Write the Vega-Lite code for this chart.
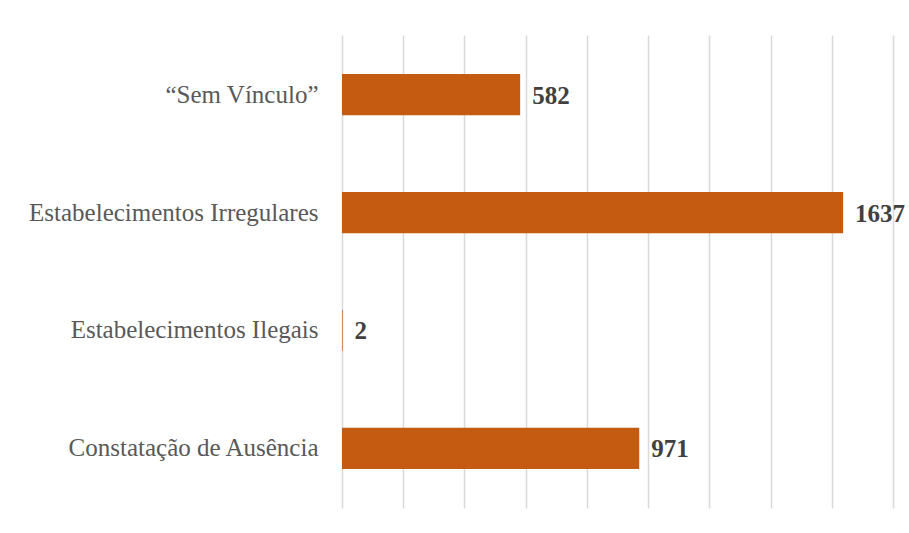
{
  "$schema": "https://vega.github.io/schema/vega-lite/v6.json",
  "autosize": "none",
  "width": 551,
  "height": 473,
  "padding": {"left": 342, "top": 35, "right": 16, "bottom": 25},
  "background": "white",
  "data": {"values": [
    {"categoria": "“Sem Vínculo”", "valor": 582},
    {"categoria": "Estabelecimentos Irregulares", "valor": 1637},
    {"categoria": "Estabelecimentos Ilegais", "valor": 2},
    {"categoria": "Constatação de Ausência", "valor": 971}
  ]},
  "encoding": {
    "y": {"field": "categoria", "type": "nominal", "sort": null,
      "scale": {"paddingInner": 0.65, "paddingOuter": 0.33},
      "axis": {"title": null, "domain": false, "ticks": false, "labelFont": "Liberation Serif", "labelFontSize": 25, "labelColor": "#595959", "labelPadding": 24, "labelLimit": 400}},
    "x": {"field": "valor", "type": "quantitative",
      "scale": {"domain": [0, 1800], "nice": false},
      "axis": {"title": null, "labels": false, "ticks": false, "domain": false, "values": [0,200,400,600,800,1000,1200,1400,1600,1800], "grid": true, "gridColor": "#d9d9d9", "gridWidth": 1.5}}
  },
  "layer": [
    {"mark": {"type": "bar", "color": "#c55a11"}},
    {"mark": {"type": "text", "align": "left", "baseline": "middle", "dx": 12, "dy": 1, "font": "Liberation Serif", "fontSize": 25, "fontWeight": "bold", "color": "#404040"},
     "encoding": {"text": {"field": "valor", "type": "quantitative"}}}
  ],
  "config": {"view": {"stroke": null}}
}
